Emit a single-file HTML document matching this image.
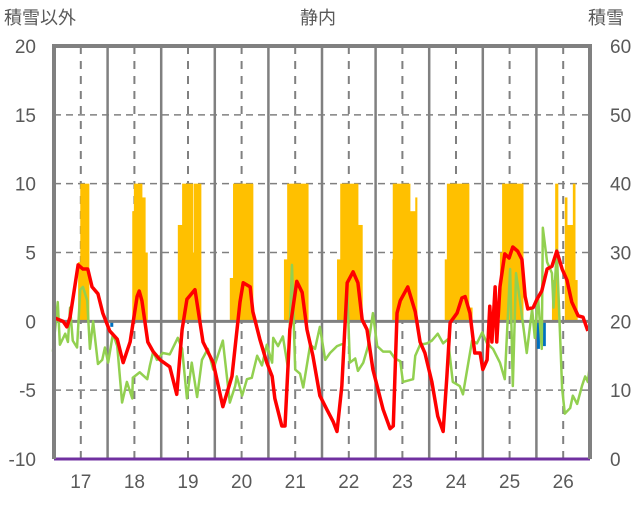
<!DOCTYPE html>
<html><head><meta charset="utf-8"><style>
body{margin:0;background:#fff;}
svg text{font-family:"Liberation Sans","Noto Sans CJK JP",sans-serif;fill:#595959;}
</style></head><body>
<svg id="chart" width="636" height="501" viewBox="0 0 636 501" xmlns="http://www.w3.org/2000/svg">
<text x="4" y="24" font-size="18">積雪以外</text>
<text x="318" y="24" font-size="18" text-anchor="middle">静内</text>
<text x="588" y="24" font-size="18">積雪</text>
<g id="grid"></g><g id="bars"></g><g id="lines"></g><g id="axes"></g>
</svg>
<script>
const yearLabels=["17","18","19","20","21","22","23","24","25","26"];
const leftTicks=[20,15,10,5,0,-5,-10];
const rightTicks=[60,50,40,30,20,10,0];
const redT=[16.48,16.67,16.74,16.80,16.95,17.04,17.13,17.21,17.32,17.41,17.54,17.68,17.79,17.92,18.05,18.09,18.14,18.25,18.35,18.48,18.66,18.79,18.89,18.98,19.13,19.28,19.47,19.65,19.82,19.97,20.03,20.16,20.21,20.34,20.47,20.57,20.62,20.75,20.81,20.90,21.03,21.13,21.22,21.33,21.46,21.59,21.71,21.78,21.87,21.97,22.08,22.17,22.25,22.34,22.45,22.64,22.77,22.83,22.90,22.96,23.10,23.24,23.33,23.42,23.55,23.66,23.76,23.83,23.89,24.02,24.11,24.17,24.26,24.35,24.45,24.50,24.58,24.63,24.67,24.73,24.76,24.82,24.91,24.99,25.06,25.15,25.23,25.29,25.34,25.44,25.51,25.60,25.70,25.79,25.88,25.98,26.07,26.16,26.28,26.37,26.46];
const redV=[0.3,0,-0.4,0.3,4.1,3.8,3.8,2.5,2,0.6,-0.7,-1.3,-3,-1.5,1.8,2.2,1.5,-1.5,-2.2,-2.8,-3.3,-5.3,-0.6,1.6,2.3,-1.5,-3,-6.2,-4,1.4,2.8,2.5,0.7,-1.3,-3,-4,-5.6,-7.6,-7.6,-0.6,2.9,2.1,-0.6,-2.5,-5.4,-6.4,-7.3,-8,-4.7,2.8,3.6,2.8,0.1,-0.6,-3.5,-6.4,-7.8,-7.6,0.6,1.5,2.5,0.7,-1.5,-2.3,-4.4,-6.9,-8,-4,-0.1,0.6,1.7,1.8,0.6,-2.3,-2.3,-3.5,-2.8,1.1,-1.5,2.5,-1.5,2.5,4.9,4.6,5.4,5.1,4.5,1.8,0.9,1.0,1.6,2.2,3.8,4.0,5.1,3.8,3.0,1.4,0.4,0.3,-0.7];
const greenT=[16.48,16.57,16.61,16.71,16.76,16.80,16.85,16.93,16.99,17.04,17.12,17.17,17.23,17.32,17.40,17.45,17.51,17.60,17.68,17.77,17.86,17.96,17.97,18.10,18.24,18.29,18.35,18.42,18.53,18.66,18.81,18.89,18.98,19.07,19.17,19.26,19.37,19.47,19.65,19.78,19.88,19.91,20.01,20.10,20.19,20.29,20.38,20.47,20.57,20.59,20.68,20.77,20.87,20.94,21.00,21.09,21.15,21.28,21.37,21.46,21.56,21.65,21.78,21.91,21.97,22.02,22.12,22.17,22.27,22.36,22.45,22.53,22.64,22.77,22.86,22.96,23.01,23.20,23.24,23.33,23.46,23.55,23.66,23.76,23.85,23.94,24.07,24.13,24.30,24.39,24.49,24.58,24.69,24.82,24.91,25.01,25.06,25.12,25.19,25.32,25.42,25.47,25.53,25.60,25.62,25.70,25.79,25.82,25.88,25.98,26.03,26.13,26.18,26.26,26.35,26.41,26.46,26.50];
const greenV=[-2.2,1.4,-1.7,-0.9,-1.5,1.0,-1.4,-1.9,2.3,2.5,1.5,-2,0,-3.1,-2.8,-1.9,-3,-0.9,-1.8,-5.9,-4.4,-5.6,-4.1,-3.7,-4.2,-3.2,-2.2,-2.8,-2.3,-2.4,-1.2,-2,-5.6,-3,-5.5,-2.8,-2,-3.5,-1.4,-5.9,-4.7,-4,-5.4,-4.2,-4.1,-2.5,-3.2,-1.7,-3,-1.2,-1.8,-1.1,-3.5,4.1,-3.5,-3.8,-4.8,-1.7,-2.0,-0.4,-2.8,-2.3,-1.8,-1.6,2.3,-3,-2.7,-3.6,-3.0,-1.8,0.6,-1.8,-2.2,-2.2,-2.7,-2.9,-4.4,-4.2,-2.5,-1.7,-1.6,-1.4,-0.9,-1.6,-1.3,-4.4,-4.7,-5.3,-1.4,-1.6,-0.8,-1.6,-2,-3,-4.2,3.8,-4.7,3.5,1.6,-2.3,0.9,-1.2,1.8,-2,6.8,4.3,3.5,1.0,5.2,-4.9,-6.7,-6.3,-5.4,-6.0,-4.7,-4,-4.4,-3.1];
const snowStart=[16.95,16.99,17.96,17.99,18.14,18.20,18.81,18.89,19.09,19.11,19.78,19.84,20.79,20.85,21.78,21.84,22.17,22.81,22.82,23.14,23.24,23.79,23.83,24.24,24.82,24.86,25.79,25.85,26.03,26.07,26.18,26.22];
const snowEnd=[16.99,17.15,17.99,18.14,18.20,18.24,18.89,19.09,19.11,19.24,19.84,20.21,20.85,21.24,21.84,22.17,22.25,22.82,23.14,23.24,23.27,23.83,24.24,24.30,24.86,25.25,25.85,25.90,26.07,26.18,26.22,26.26];
const snowDepth=[28.6,40,36,40,38,30,34,40,30,40,26.3,40,29,40,29,40,34,29,40,36,38,29,40,22,30,40,26,40,38,34,40,26];
const blueT=[17.55,25.51,25.62];
const blueV=[-0.4,-2.0,-1.8];

const NS="http://www.w3.org/2000/svg";
const L=54,R=590,T=46,B=459;
const xs=t=>L+(t-16.5)/10*(R-L);
const yl=v=>B-(v+10)/30*(B-T);
const yr=v=>B-v/60*(B-T);
function mk(tag,attrs,parent){const e=document.createElementNS(NS,tag);for(const k in attrs)e.setAttribute(k,attrs[k]);document.getElementById(parent).appendChild(e);return e;}

leftTicks.forEach(v=>{if(v===20||v===0||v===-10)return;
 const g=mk('line',{x1:L,x2:R,y1:yl(v),y2:yl(v),stroke:'#808080','stroke-width':1.5,'stroke-dasharray':'7,5'},'grid');
 
 
});
yearLabels.forEach((lab,i)=>{
 const y=17+i;
 const d=mk('line',{x1:xs(y),x2:xs(y),y1:T,y2:B,stroke:'#808080','stroke-width':2,'stroke-dasharray':'8,7'},'grid');
 
 
 if(i<9){const s=mk('line',{x1:xs(y+0.5),x2:xs(y+0.5),y1:T,y2:B,stroke:'#808080','stroke-width':2.5},'grid');
 
 }
 const tx=mk('text',{x:xs(y),y:488,'font-size':19,'text-anchor':'middle'},'axes');tx.textContent=lab;
 
 
});
snowStart.forEach((s,i)=>{
 const r=mk('rect',{x:xs(s),width:Math.max(1,xs(snowEnd[i])-xs(s))+0.5,y:yr(snowDepth[i]),height:yr(20)-yr(snowDepth[i]),fill:'#FFC000'},'bars');
 
 
});
blueT.forEach((t,i)=>{
 const r=mk('rect',{x:xs(t),width:3,y:yl(0),height:yl(blueV[i])-yl(0),fill:'#0070C0'},'bars');
 
 
});
const z=mk('line',{x1:L,x2:R,y1:yl(0),y2:yl(0),stroke:'#808080','stroke-width':3},'lines');


function poly(T_,V_,color,w,name){
 const p=mk('polyline',{points:T_.map((t,i)=>xs(t)+','+yl(V_[i])).join(' '),fill:'none',stroke:color,'stroke-width':w,'stroke-linejoin':'round'},'lines');
 
 
}
poly(greenT,greenV,'#92D050',2.5,'green-series-line');
poly(redT,redV,'#FF0000',3.5,'red-series-line');
const bp=mk('line',{x1:L,x2:R,y1:B,y2:B,stroke:'#7030A0','stroke-width':3},'axes');


const fr=mk('path',{d:`M${L},${B} L${L},${T} L${R},${T} L${R},${B}`,fill:'none',stroke:'#808080','stroke-width':4},'axes');


leftTicks.forEach(v=>{
 const t=mk('text',{x:36,y:yl(v)+7,'font-size':19,'text-anchor':'end'},'axes');t.textContent=v;
 
 
});
rightTicks.forEach(v=>{
 const t=mk('text',{x:610,y:yr(v)+7,'font-size':19},'axes');t.textContent=v;
 
 
});
</script>
</body></html>
